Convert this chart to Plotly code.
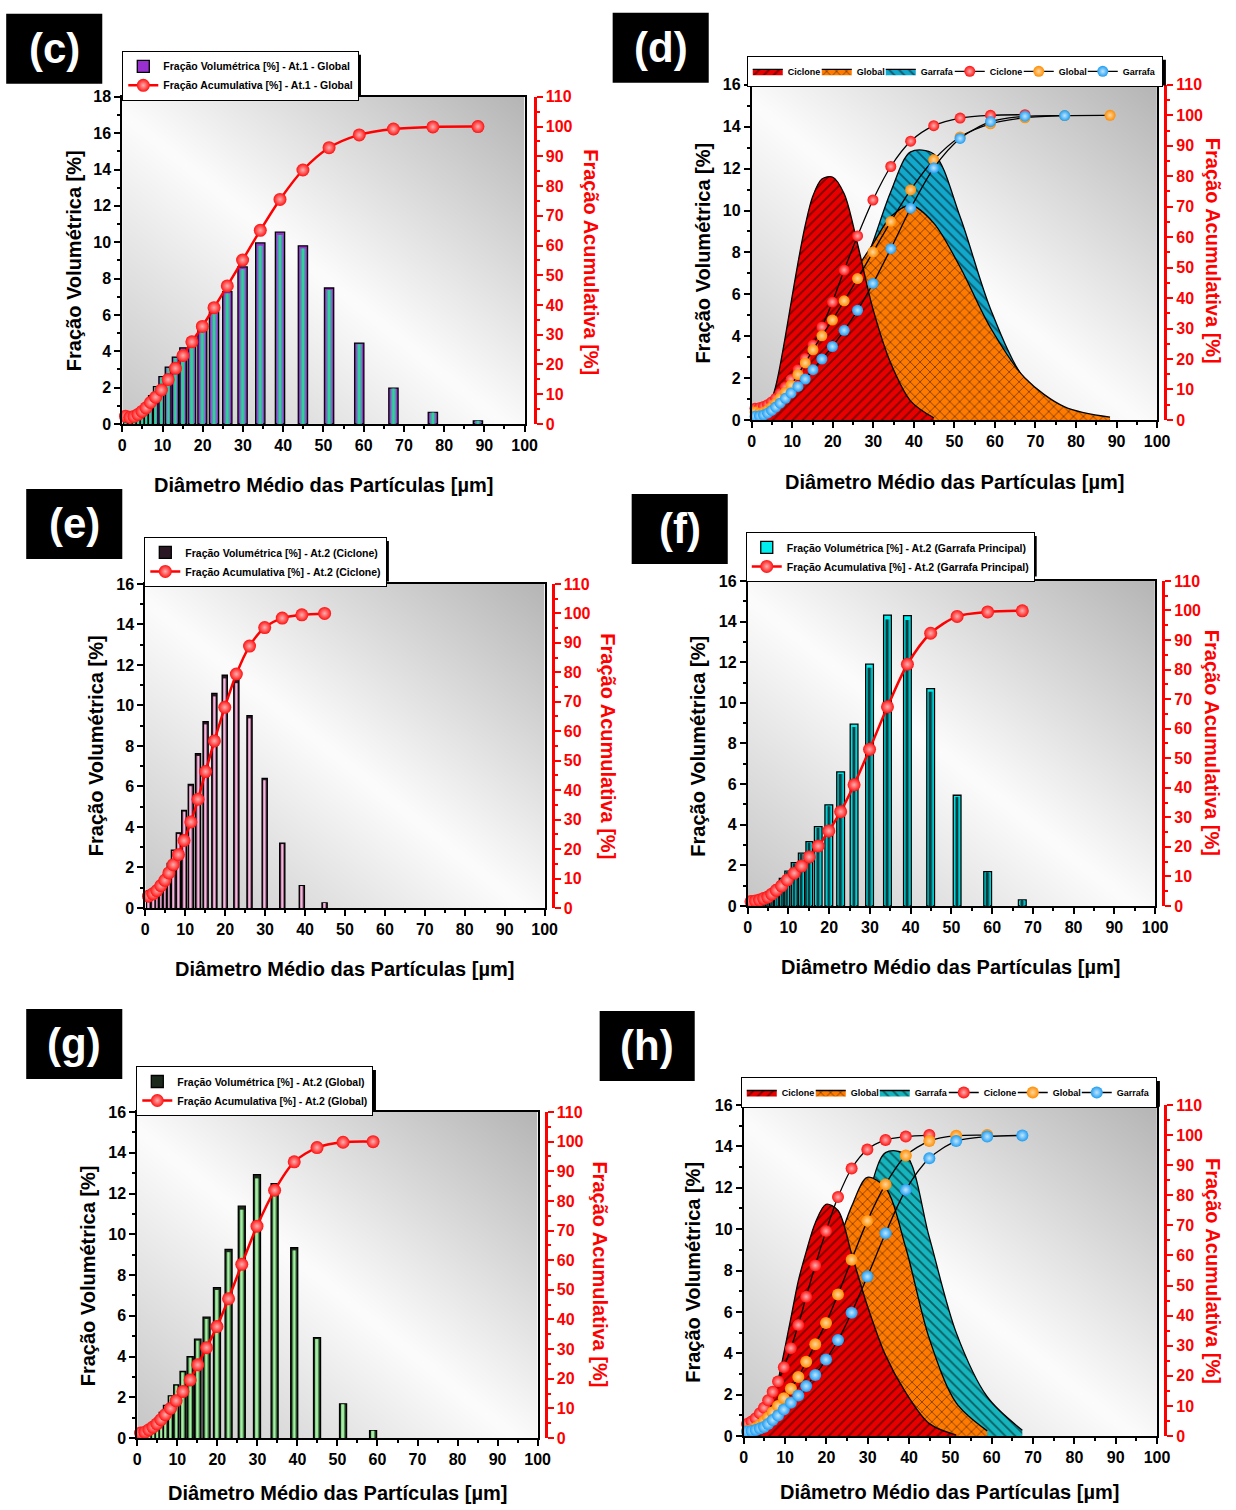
import plotly.graph_objects as go

FW, FH = 1236, 1510
# The photographed page shows the figure slightly shrunk and shifted;
# window position = S * figure pixel + C. Positions below are window pixels.
SX, CX = 0.9855, 4.8
SY, CY = 0.9886, 7.15
FONT = "Liberation Sans"

# ---------------- data ----------------
BINS = [0.8, 1.9, 2.9, 3.9, 4.9, 5.9, 7.0, 8.3, 9.7, 11.4, 13.2, 15.1, 17.3,
        19.9, 22.8, 26.1, 29.9, 34.3, 39.2, 44.9, 51.4, 58.9, 67.4, 77.2, 88.4]

# (c) At.1 - Global
AT1_GLOBAL_VOL = [0.05, 0.10, 0.20, 0.35, 0.64, 1.10, 1.56, 2.05, 2.60, 3.13, 3.68, 4.19, 4.72,
                  5.29, 6.16, 7.28, 8.64, 9.96, 10.55, 9.80, 7.48, 4.45, 1.97, 0.63, 0.17]
AT1_GLOBAL_CUM = [2.6, 2.2, 2.5, 3.2, 4.2, 5.4, 7.2, 9.0, 11.4, 14.9, 18.7, 23.0, 27.6,
                  32.8, 39.1, 46.4, 55.1, 65.1, 75.5, 85.4, 92.9, 97.2, 99.2, 99.9, 100.0]

# (d) At.1 curves and cumulative
AT1_CICLONE_CURVE = [0.50, 0.52, 0.60, 0.75, 1.00, 1.60, 2.60, 4.00, 5.60, 7.50, 9.30, 10.70, 11.50,
                     11.60, 10.80, 8.40, 5.30, 2.70, 0.90, 0.10]
AT1_GLOBAL_CURVE = [0.35, 0.38, 0.45, 0.60, 0.85, 1.15, 1.56, 2.05, 2.60, 3.13, 3.68, 4.19, 4.72,
                    5.29, 6.16, 7.28, 8.40, 9.70, 10.25, 9.40, 7.30, 4.40, 2.00, 0.62, 0.13]
AT1_GARRAFA_CURVE = [0.20, 0.22, 0.30, 0.55, 0.85, 1.00, 1.25, 1.50, 1.70, 2.10, 2.40, 3.00, 3.40,
                     4.10, 5.20, 6.60, 8.50, 10.90, 12.80, 12.70, 9.70, 5.30, 1.90, 0.30]
AT1_CICLONE_CUM = [3.8, 4.0, 4.4, 5.0, 5.9, 7.1, 8.7, 10.8, 13.3, 16.5, 20.2, 24.6, 30.5,
                   38.7, 49.2, 60.4, 72.2, 83.2, 91.5, 96.6, 99.1, 100.0, 100.2]
AT1_GARRAFA_CUM = [1.2, 1.3, 1.6, 2.2, 3.1, 4.2, 5.5, 7.1, 8.8, 11.0, 13.4, 16.5, 20.0,
                   24.1, 29.4, 36.0, 44.8, 56.2, 69.5, 82.7, 92.4, 97.9, 99.7, 99.9]

# (e) At.2 - Ciclone
AT2_CICLONE_VOL = [0.85, 0.70, 0.90, 1.24, 1.65, 2.20, 2.85, 3.71, 4.82, 6.10, 7.62, 9.20, 10.60,
                   11.50, 11.27, 9.50, 6.40, 3.20, 1.10, 0.25]
AT2_CICLONE_CUM = [4.0, 4.8, 5.9, 7.6, 9.4, 11.9, 14.7, 18.1, 22.9, 29.2, 36.9, 46.3, 56.7,
                   68.1, 79.4, 88.9, 95.2, 98.4, 99.5, 100.0]

# (f) At.2 - Garrafa Principal
AT2_GARRAFA_VOL = [0.15, 0.25, 0.36, 0.49, 0.66, 0.82, 1.03, 1.36, 1.72, 2.13, 2.60, 3.17, 3.91,
                   4.98, 6.60, 8.95, 11.90, 14.32, 14.29, 10.70, 5.45, 1.69, 0.30]
AT2_GARRAFA_CUM = [1.5, 1.7, 2.0, 2.5, 3.0, 4.0, 5.3, 6.8, 8.8, 11.1, 13.5, 16.6, 20.3,
                   25.4, 31.9, 41.0, 53.0, 67.4, 81.8, 92.3, 98.0, 99.5, 99.9]

# (g) At.2 - Global
AT2_GLOBAL_VOL = [0.15, 0.30, 0.52, 0.73, 0.98, 1.26, 1.60, 2.07, 2.61, 3.27, 4.00, 4.85, 5.93,
                  7.38, 9.26, 11.38, 12.93, 12.49, 9.34, 4.93, 1.68, 0.36]
AT2_GLOBAL_CUM = [1.7, 2.0, 2.8, 3.7, 4.8, 6.2, 7.9, 10.0, 12.6, 15.7, 19.6, 24.7, 30.5,
                  37.6, 47.0, 58.6, 71.5, 83.6, 93.2, 98.0, 99.8, 100.0]

# (h) At.2 smoothed curves
AT2_CICLONE_CURVE = [0.15, 0.20, 0.30, 0.42, 0.70, 1.05, 1.75, 2.70, 4.00, 5.70, 7.50, 8.90, 10.30,
                     11.20, 10.90, 8.80, 6.30, 3.90, 2.10, 0.60, 0.05]
AT2_GLOBAL_CURVE = [0.15, 0.30, 0.52, 0.73, 0.98, 1.26, 1.60, 2.07, 2.61, 3.27, 4.00, 4.85, 5.93,
                    7.38, 9.26, 11.10, 12.50, 12.00, 9.10, 4.70, 1.60, 0.25]
AT2_GARRAFA_CURVE = [0.05, 0.08, 0.12, 0.20, 0.30, 0.45, 0.65, 0.90, 1.20, 1.60, 2.10, 2.70, 3.50,
                     4.60, 6.20, 8.50, 11.40, 13.70, 13.60, 9.60, 5.00, 1.90, 0.28]

X_TICKS = [0, 10, 20, 30, 40, 50, 60, 70, 80, 90, 100]

# ---------------- layout geometry (window pixels) ----------------
# left, right, top, bottom of plot area, x of red axis, y max
GEOM = {
    "c": (123, 525, 96, 423, 535, 18),
    "d": (752, 1157, 84, 419, 1165, 16),
    "e": (146, 545, 583, 907, 553, 16),
    "f": (748, 1155, 580, 905, 1163, 16),
    "g": (138, 538, 1111, 1437, 546, 16),
    "h": (744, 1157, 1104, 1435, 1165, 16),
}
ORDER = ["c", "d", "e", "f", "g", "h"]
LABEL_BOX = {"c": (7, 13, 103, 83), "d": (613, 12, 709, 82), "e": (27, 488, 123, 558),
             "f": (632, 493, 728, 563), "g": (27, 1008, 123, 1078), "h": (600, 1010, 695, 1080)}
LEG_POS = {"c": (123, 50), "d": (747, 55), "e": (145, 536), "f": (746, 531),
           "g": (137, 1065), "h": (741, 1076)}
# legend box size in figure pixels
LEG_SIZE = {"c": (238, 41), "d": (421, 26), "e": (244, 41), "f": (291, 41),
            "g": (239, 41), "h": (421, 26)}
XTITLE = {"c": (324, 484), "d": (955, 481), "e": (345, 968), "f": (951, 966),
          "g": (338, 1492), "h": (950, 1491)}
YLTITLE = {"c": (75, 260), "d": (703, 252), "e": (97, 745), "f": (698, 745),
           "g": (89, 1275), "h": (693, 1271)}
YRTITLE = {"c": (591, 261), "d": (1213, 250), "e": (608, 745), "f": (1212, 742),
           "g": (600, 1273), "h": (1213, 1270)}
HLEG_WIDTH = {"Ciclone": 24, "Global": 19, "Garrafa": 24}


def fx(x):
    return (x - CX) / SX


def fy(y):
    return (y - CY) / SY


def px(x):
    return fx(x) / FW


def py(y):
    return 1 - fy(y) / FH


def refs(k):
    xa = "x" if k == 1 else f"x{k}"
    yl = "y" if k == 1 else f"y{2 * k - 1}"
    yr = f"y{2 * k}"
    return xa, yl, yr


def akey(ref):
    return ref[0] + "axis" + ref[1:]


def lkey(k):
    return "legend" if k == 1 else f"legend{k}"


fig = go.Figure()
layout = dict(width=FW, height=FH, margin=dict(l=0, r=0, t=0, b=0, pad=0), autosize=False,
              paper_bgcolor="white", plot_bgcolor="white", barmode="overlay",
              font=dict(family=FONT, color="black"), showlegend=True)
shapes, annotations = [], []


def bg_trace(xa, yl, ymax):
    nx, ny = 41, 41
    xs = [-3 + 106 * i / (nx - 1) for i in range(nx)]
    ys = [-0.03 * ymax + 1.06 * ymax * j / (ny - 1) for j in range(ny)]
    z = []
    for y in ys:
        yn = y / ymax
        row = []
        for x in xs:
            xn = x / 100.0
            t = xn + yn - 0.95
            if t >= 0:
                g = 252 - 68 * min(t, 1.1)
            else:
                g = 252 - 58 * min(-t, 1.0)
            row.append(g)
        z.append(row)
    return go.Heatmap(x=xs, y=ys, z=z, xaxis=xa, yaxis=yl, zmin=0, zmax=255,
                      colorscale=[[0, "black"], [1, "white"]], showscale=False,
                      zsmooth="best", hoverinfo="skip", showlegend=False)


def widths(n, maxw):
    out = []
    for i in range(n):
        prev = BINS[i] - BINS[i - 1] if i > 0 else BINS[1] - BINS[0]
        out.append(min(maxw, 0.85 * prev))
    return out


def grad_bars(vals, maxw, cols, name, xa, yl, lg):
    n = len(vals)
    xs = BINS[:n]
    w = widths(n, maxw)
    fig.add_trace(go.Bar(x=xs, y=vals, width=w, xaxis=xa, yaxis=yl, name=name, legend=lg,
                         marker=dict(color=cols[0], line=dict(color="black", width=1.3)),
                         hoverinfo="skip"))
    fig.add_trace(go.Bar(x=xs, y=[v * 0.985 for v in vals], width=[a * 0.6 for a in w],
                         xaxis=xa, yaxis=yl, showlegend=False,
                         marker=dict(color=cols[1], line=dict(width=0)), hoverinfo="skip"))
    fig.add_trace(go.Bar(x=xs, y=[v * 0.985 for v in vals], width=[a * 0.25 for a in w],
                         xaxis=xa, yaxis=yl, showlegend=False,
                         marker=dict(color=cols[2], line=dict(width=0)), hoverinfo="skip"))


def cum_line(vals, name, xa, yr, lg, color, hl, linecolor, lw, size, rank=None, last=False):
    n = len(vals)
    tr = go.Scatter(x=BINS[:n], y=vals, xaxis=xa, yaxis=yr, name=name, legend=lg,
                    mode="lines+markers", cliponaxis=False,
                    line=dict(color=linecolor, width=lw, shape="spline", smoothing=0.8),
                    marker=dict(size=size, color=color, gradient=dict(type="radial", color=hl),
                                line=dict(width=0)),
                    hoverinfo="skip")
    if rank is not None:
        tr.legendrank = rank
        if not last:
            tr.legendwidth = HLEG_WIDTH[name]
    fig.add_trace(tr)


def curve(vals, name, xa, yl, lg, bg, shape, rank):
    n = len(vals)
    fig.add_trace(go.Scatter(x=BINS[:n], y=vals, xaxis=xa, yaxis=yl, name=name, legend=lg,
                             legendrank=rank, legendwidth=HLEG_WIDTH[name],
                             mode="lines", fill="tozeroy",
                             line=dict(color="black", width=1.3, shape="spline", smoothing=0.9),
                             fillcolor=bg,
                             fillpattern=dict(shape=shape, bgcolor=bg, fgcolor="black",
                                              size=7, solidity=0.24),
                             hoverinfo="skip"))


tickfont = dict(family=FONT, size=16, color="black", weight="bold")
redfont = dict(family=FONT, size=16, color="red", weight="bold")

for k, p in enumerate(ORDER, start=1):
    L, R, T, B, RA, ymax = GEOM[p]
    xa, yl, yr = refs(k)
    lg = lkey(k)
    layout[akey(xa)] = dict(domain=[px(L), px(R)], anchor=yl, range=[0, 100],
                            tickmode="array", tickvals=X_TICKS, ticks="outside", ticklen=6,
                            tickwidth=2, tickcolor="black",
                            minor=dict(ticks="outside", dtick=5, ticklen=3, tickwidth=2,
                                       tickcolor="black"),
                            showline=True, linecolor="black", linewidth=2, mirror=True,
                            showgrid=False, zeroline=False, tickfont=tickfont)
    layout[akey(yl)] = dict(domain=[py(B), py(T)], anchor=xa, range=[0, ymax],
                            dtick=2, tick0=0, ticks="outside", ticklen=6, tickwidth=2,
                            tickcolor="black",
                            minor=dict(ticks="outside", dtick=1, ticklen=3, tickwidth=2,
                                       tickcolor="black"),
                            showline=True, linecolor="black", linewidth=2, mirror=True,
                            showgrid=False, zeroline=False, tickfont=tickfont)
    layout[akey(yr)] = dict(overlaying=yl, side="right", anchor="free", position=px(RA),
                            range=[0, 110], dtick=10, tick0=0, ticks="outside", ticklen=6,
                            tickwidth=2, tickcolor="red",
                            minor=dict(ticks="outside", dtick=5, ticklen=3, tickwidth=2,
                                       tickcolor="red"),
                            showline=True, linecolor="red", linewidth=3, showgrid=False,
                            zeroline=False, tickfont=redfont)
    lx, ly = LEG_POS[p]
    horiz = p in ("d", "h")
    layout[lg] = dict(x=px(lx), y=py(ly), xanchor="left", yanchor="top",
                      orientation="h" if horiz else "v", bgcolor="white",
                      bordercolor="black", borderwidth=1, tracegroupgap=0,
                      itemwidth=30, traceorder="normal",
                      font=dict(family=FONT, size=9 if horiz else 10.5, color="black",
                                weight="bold"))
    lw_, lh_ = LEG_SIZE[p]
    sx0, sy0 = fx(lx) + 4, fy(ly) + 4
    shapes.append(dict(type="rect", xref="paper", yref="paper", layer="above",
                       x0=sx0 / FW, x1=(sx0 + lw_) / FW,
                       y0=1 - (sy0 + lh_) / FH, y1=1 - sy0 / FH,
                       fillcolor="black", line=dict(width=0)))
    # background gradient
    fig.add_trace(bg_trace(xa, yl, ymax))

    if p == "c":
        grad_bars(AT1_GLOBAL_VOL, 2.3, ("#9a2fd0", "#5c8fb0", "#2fd39a"),
                  "Fração Volumétrica [%] - At.1 - Global", xa, yl, lg)
        cum_line(AT1_GLOBAL_CUM, "Fração Acumulativa [%] - At.1 - Global", xa, yr, lg,
                 "#ff1010", "#ffb0b0", "#ff0000", 2.5, 13)
    elif p == "e":
        grad_bars(AT2_CICLONE_VOL, 1.3, ("#2b1623", "#8a5878", "#f4b8dc"),
                  "Fração Volumétrica [%] - At.2 (Ciclone)", xa, yl, lg)
        cum_line(AT2_CICLONE_CUM, "Fração Acumulativa [%] - At.2 (Ciclone)", xa, yr, lg,
                 "#ff1010", "#ffb0b0", "#ff0000", 2.5, 13)
    elif p == "f":
        grad_bars(AT2_GARRAFA_VOL, 1.9, ("#00eeee", "#00a8b0", "#0b3c3e"),
                  "Fração Volumétrica [%] - At.2 (Garrafa Principal)", xa, yl, lg)
        cum_line(AT2_GARRAFA_CUM, "Fração Acumulativa [%] - At.2 (Garrafa Principal)", xa, yr,
                 lg, "#ff1010", "#ffb0b0", "#ff0000", 2.5, 13)
    elif p == "g":
        grad_bars(AT2_GLOBAL_VOL, 1.75, ("#1c2a1c", "#4f8f4f", "#a6eea6"),
                  "Fração Volumétrica [%] - At.2 (Global)", xa, yl, lg)
        cum_line(AT2_GLOBAL_CUM, "Fração Acumulativa [%] - At.2 (Global)", xa, yr, lg,
                 "#ff1010", "#ffb0b0", "#ff0000", 2.5, 13)
    elif p == "d":
        curve(AT1_GARRAFA_CURVE, "Garrafa", xa, yl, lg, "#12a8cc", "\\", 3)
        curve(AT1_GLOBAL_CURVE, "Global", xa, yl, lg, "#ff7a00", "x", 2)
        curve(AT1_CICLONE_CURVE, "Ciclone", xa, yl, lg, "#e80000", "/", 1)
        cum_line(AT1_CICLONE_CUM, "Ciclone", xa, yr, lg, "#ff1010", "#ffb0b0", "black", 1.3, 11, 4)
        cum_line(AT1_GLOBAL_CUM, "Global", xa, yr, lg, "#ff8c00", "#ffd8a0", "black", 1.3, 11, 5)
        cum_line(AT1_GARRAFA_CUM, "Garrafa", xa, yr, lg, "#1e9cf0", "#c0e6ff", "black", 1.3, 11, 6,
                 last=True)
    elif p == "h":
        curve(AT2_GARRAFA_CURVE, "Garrafa", xa, yl, lg, "#16b4bc", "\\", 3)
        curve(AT2_GLOBAL_CURVE, "Global", xa, yl, lg, "#ff7a00", "x", 2)
        curve(AT2_CICLONE_CURVE, "Ciclone", xa, yl, lg, "#e80000", "/", 1)
        cum_line(AT2_CICLONE_CUM, "Ciclone", xa, yr, lg, "#ff1010", "#ffb0b0", "black", 1.3, 12, 4)
        cum_line(AT2_GLOBAL_CUM, "Global", xa, yr, lg, "#ff8c00", "#ffd8a0", "black", 1.3, 12, 5)
        cum_line(AT2_GARRAFA_CUM, "Garrafa", xa, yr, lg, "#1e9cf0", "#c0e6ff", "black", 1.3, 12, 6,
                 last=True)

    # panel label
    x0, y0, x1, y1 = LABEL_BOX[p]
    shapes.append(dict(type="rect", xref="paper", yref="paper", x0=px(x0), x1=px(x1),
                       y0=py(y1), y1=py(y0), fillcolor="black", line=dict(width=0)))
    annotations.append(dict(text=f"({p})", xref="paper", yref="paper",
                            x=px((x0 + x1) / 2), y=py((y0 + y1) / 2), showarrow=False,
                            xanchor="center", yanchor="middle",
                            font=dict(family=FONT, size=42, color="white", weight="bold")))
    # axis titles
    tx, ty = XTITLE[p]
    annotations.append(dict(text="Diâmetro Médio das Partículas [µm]", xref="paper",
                            yref="paper", x=px(tx), y=py(ty), showarrow=False,
                            xanchor="center", yanchor="middle",
                            font=dict(family=FONT, size=20, color="black", weight="bold")))
    tx, ty = YLTITLE[p]
    annotations.append(dict(text="Fração Volumétrica [%]", xref="paper", yref="paper",
                            x=px(tx), y=py(ty), showarrow=False, textangle=-90,
                            xanchor="center", yanchor="middle",
                            font=dict(family=FONT, size=20, color="black", weight="bold")))
    tx, ty = YRTITLE[p]
    annotations.append(dict(text="Fração Acumulativa [%]", xref="paper", yref="paper",
                            x=px(tx), y=py(ty), showarrow=False, textangle=90,
                            xanchor="center", yanchor="middle",
                            font=dict(family=FONT, size=20, color="red", weight="bold")))

layout["shapes"] = shapes
layout["annotations"] = annotations
fig.update_layout(**layout)
fig.write_html("out.html")
